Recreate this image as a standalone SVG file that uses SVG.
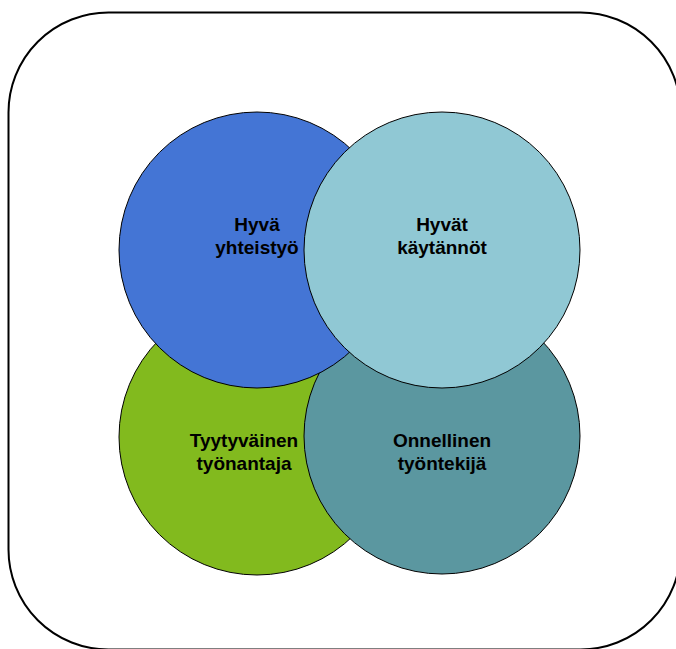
<svg xmlns="http://www.w3.org/2000/svg" width="676" height="649" viewBox="0 0 676 649">
<style>
.c{stroke:#000;stroke-width:1}
.t{font-family:"Liberation Sans",Arial,sans-serif;font-weight:bold;font-size:19px;fill:#000;text-anchor:middle}
</style>
<rect x="8.5" y="12.5" width="672" height="637" rx="100" ry="100" fill="#fff" stroke="#000" stroke-width="2"/>
<g id="connectors"/>
<g id="node-tyonantaja">
<circle class="c" cx="257" cy="437" r="138" fill="#82BA1E"/>
<text class="t" x="244" y="447">Tyytyväinen</text>
<text class="t" x="244" y="470">työnantaja</text>
</g>
<g id="node-tyontekija">
<circle class="c" cx="442" cy="436" r="138" fill="#5B97A0"/>
<text class="t" x="442" y="447">Onnellinen</text>
<text class="t" x="442" y="470">työntekijä</text>
</g>
<g id="node-yhteistyo">
<circle class="c" cx="257" cy="250" r="138" fill="#4475D5"/>
<text class="t" x="257" y="231">Hyvä</text>
<text class="t" x="257" y="254">yhteistyö</text>
</g>
<g id="node-kaytannot">
<circle class="c" cx="442" cy="250" r="138" fill="#90C8D4"/>
<text class="t" x="442" y="231">Hyvät</text>
<text class="t" x="442" y="254">käytännöt</text>
</g>
</svg>
